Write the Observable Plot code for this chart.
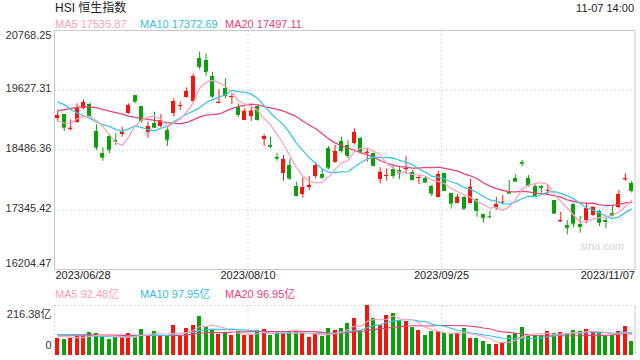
<!DOCTYPE html>
<html><head><meta charset="utf-8">
<script src="https://cdn.jsdelivr.net/npm/d3@7"></script>
<script src="https://cdn.jsdelivr.net/npm/@observablehq/plot@0.6"></script>
<style>
body{margin:0;background:#fff;font-family:"Liberation Sans",Arial,"Noto Sans CJK SC",sans-serif;}
#wrap{position:relative;width:640px;height:360px;overflow:hidden;background:#fff;}
.t{position:absolute;white-space:nowrap;line-height:1;}
#main{position:absolute;left:0;top:0;}
#vol{position:absolute;left:0;top:290px;}
</style></head><body><div id="wrap"><div id="main"></div><div id="vol"></div></div>
<script>
const title = "HSI 恒生指数";
const stamp = "11-07 14:00";
const legendPrice = ["MA5 17535.87", "MA10 17372.69", "MA20 17497.11"];
const legendVol = ["MA5 92.48亿", "MA10 97.95亿", "MA20 96.95亿"];
const yTicks = [20768.25, 19627.31, 18486.36, 17345.42, 16204.47];
const yTickLabels = ["20768.25", "19627.31", "18486.36", "17345.42", "16204.47"];
const volMax = 216.38;
const volTickLabels = ["216.38亿", "0"];
const xLabels = ["2023/06/28", "2023/08/10", "2023/09/25", "2023/11/07"];
const xLabelPos = [-0.5, 29.5, 59.5, 89.5];
const xGrid = [29.5, 59.5];

const open = [19094,19164,18884,19006,19285,19355,18840,18420,18744,18668,
18788,19189,19527,19317,18826,18986,18935,18859,19177,19323,
19494,19412,20228,20195,19890,19380,19655,19483,19304,19050,
19126,19323,18693,18572,18343,18032,18190,17795,17637,17765,
17980,18018,18521,18254,18648,18572,18604,18700,18414,18414,
17923,17985,18114,18095,18120,18063,17950,17936,17789,17573,
18031,17662,17471,17585,17471,17535,17255,17222,17363,17480,
17700,17936,18245,17936,17789,17789,17708,17522,17122,17045,
17446,17064,17140,17230,17318,17132,17280,17394,17917,17853];
const high = [19222,19164,19063,19369,19445,19380,18967,18528,18777,18796,
18922,19369,19527,19317,19017,19209,19164,18935,19464,19399,
19674,19941,20354,20323,19972,19636,19846,19560,19369,19273,
19304,19336,18782,18731,18426,18381,18318,17872,17956,17980,
18222,18127,18553,18572,18731,18668,18891,18731,18509,18426,
18146,18127,18190,18171,18362,18095,18000,17980,17809,18082,
18044,17662,17637,17598,17929,17554,17255,17312,17585,17618,
17904,18012,18286,18000,17840,17809,17809,17522,17299,17140,
17459,17217,17478,17394,17331,17191,17427,17713,18031,17891];
const low = [19017,18840,18846,18998,19254,19113,18477,18272,18414,18572,
18731,19164,19369,18998,18712,18891,18910,18553,19113,19241,
19475,19380,20018,19896,19475,19369,19464,19355,19113,19050,
19031,19037,18553,18509,18272,17891,17923,17585,17566,17713,
17936,17936,18108,18235,18426,18318,18585,18414,18254,18165,
17840,17891,17936,17917,18032,17891,17827,17853,17598,17573,
17713,17363,17459,17344,17459,17203,17088,17172,17331,17446,
17650,17891,18171,17777,17618,17662,17618,17268,17108,16867,
17000,16898,17077,17217,17026,16981,17204,17363,17891,17662];
const close = [19145,18922,18903,19285,19393,19126,18540,18349,18490,18655,
18826,19336,19418,19050,18935,18922,19050,18681,19412,19336,
19603,19890,20081,19986,19514,19399,19527,19508,19164,19228,
19228,19069,18744,18559,18330,18305,17936,17618,17770,17809,
18190,17956,18146,18458,18477,18381,18815,18464,18445,18190,
18063,18000,18000,18051,18130,17923,17960,17872,17662,18018,
17713,17471,17585,17363,17777,17331,17191,17212,17446,17490,
17662,17891,18235,17809,17618,17765,17718,17280,17132,17000,
17077,17026,17363,17394,17108,17122,17236,17637,17936,17713];
const ma5 = [19045,19000,18990,19080,19130,19126,19049,18939,18780,18632,
18572,18731,18945,19057,19113,19132,19075,18928,19000,19080,
19216,19384,19664,19779,19815,19774,19701,19587,19422,19365,
19331,19239,19087,18966,18786,18601,18375,18150,17992,17888,
17865,17869,17974,18112,18245,18284,18455,18519,18516,18459,
18395,18232,18140,18061,18049,18021,18013,17987,17909,17887,
17845,17747,17690,17630,17582,17505,17449,17375,17391,17334,
17400,17540,17745,17817,17843,17864,17829,17638,17503,17379,
17241,17103,17120,17172,17194,17203,17245,17299,17408,17529];
const ma10 = [19402,19354,19263,19190,19140,19090,19022,18969,18938,18881,
18849,18890,18942,18918,18873,18852,18903,18936,19029,19097,
19174,19230,19296,19390,19448,19495,19543,19626,19601,19590,
19553,19470,19337,19194,19076,18966,18807,18618,18479,18337,
18233,18122,18062,18052,18067,18074,18162,18247,18314,18352,
18340,18344,18329,18289,18254,18208,18123,18063,17985,17968,
17933,17880,17839,17770,17734,17675,17598,17532,17511,17458,
17453,17495,17560,17604,17589,17632,17685,17691,17660,17611,
17553,17466,17379,17337,17286,17222,17174,17210,17290,17361];
const ma20 = [19240,19255,19280,19300,19315,19310,19290,19260,19230,19200,
19170,19135,19110,19090,19070,19050,19030,19010,18995,18989,
19012,19060,19119,19154,19160,19174,19223,19281,19315,19343,
19363,19350,19316,19292,19262,19231,19175,19122,19040,18963,
18893,18796,18699,18623,18571,18520,18485,18432,18396,18345,
18286,18233,18196,18170,18160,18141,18142,18155,18150,18160,
18136,18112,18084,18029,17994,17942,17860,17798,17748,17713,
17693,17687,17699,17687,17661,17654,17641,17612,17585,17534,
17503,17480,17469,17471,17437,17427,17429,17450,17475,17486];
const volume = [72,66,72,82,87,97,93,77,66,77,
77,93,78,110,84,102,84,79,128,84,
115,128,168,124,113,88,93,84,104,84,
87,106,110,84,99,88,104,104,93,75,
88,79,115,109,115,137,159,106,216,159,
128,172,181,150,146,119,106,84,102,102,
93,88,93,115,71,71,57,44,44,53,
84,93,119,84,84,84,102,93,97,93,
106,102,110,102,97,79,84,102,124,57];
const vma5 = [82,80,78,76,76,81,86,87,84,82,
78,78,78,87,88,93,92,92,95,95,
98,107,125,124,130,124,117,100,96,91,
90,93,98,94,97,97,97,96,98,93,
93,88,90,93,101,111,127,125,147,155,
154,156,171,158,155,154,140,121,111,103,
97,94,96,98,92,88,81,72,57,54,
56,64,79,87,93,93,95,89,92,94,
98,98,102,103,103,98,94,93,97,89];
const vma10 = [88,87,86,85,84,83,82,81,80,79,
79,82,83,86,85,86,85,85,91,92,
96,99,108,110,113,111,112,113,110,110,
107,105,99,95,94,94,95,97,96,95,
95,92,93,95,97,102,107,108,120,128,
132,142,148,152,155,154,148,146,135,129,
126,117,108,105,97,93,88,84,78,73,
72,73,75,72,73,75,79,84,89,93,
96,96,96,97,99,98,96,97,100,96];
const vma20 = [88,88,88,88,88,88,87,87,87,87,
86,86,86,86,86,86,85,85,85,85,
88,91,95,98,99,98,98,99,101,101,
102,102,104,102,103,103,104,105,103,103,
101,99,96,95,95,98,101,102,108,112,
114,117,121,124,126,128,128,127,127,129,
129,129,128,129,126,123,118,115,106,101,
99,95,92,88,85,84,83,84,84,83,
84,84,85,85,86,86,88,91,95,95];

const RED = "#f2170c", GREEN = "#0c9f0c";
const C5 = "#f8a2bf", C10 = "#3cc5e2", C20 = "#e9447a";
const L5 = "#f79cbb", L10 = "#2fc0de", L20 = "#ea3d77";
const GRID = "#d6d6d6", BORDER = "#c9c9c9";
const FONT = "'Liberation Sans', Arial, 'Noto Sans CJK SC', sans-serif";
const HW = 0.31;

const candles = open.map((o, i) => ({i, o, h: high[i], l: low[i], c: close[i], v: volume[i],
  col: close[i] >= o ? RED : GREEN}));
const line = (arr) => arr.map((v, i) => ({i, v}));

const main = Plot.plot({
  width: 640, height: 290,
  marginLeft: 54, marginRight: 5.5, marginTop: 30, marginBottom: 21,
  x: {domain: [-0.5, 89.5], axis: null},
  y: {domain: [yTicks[4], yTicks[0]], axis: null},
  color: {type: "identity"},
  style: {fontFamily: FONT, fontSize: "11px", background: "transparent", overflow: "visible"},
  marks: [
    Plot.ruleY(yTicks.slice(1, 4), {stroke: GRID, strokeDasharray: "2,2"}),
    Plot.ruleX(xGrid, {stroke: GRID, strokeDasharray: "2,2"}),
    Plot.frame({stroke: BORDER}),
    Plot.text(["sina.com"], {frameAnchor: "bottom-right", text: d => d, dx: -11, dy: -20, textAnchor: "end", fill: "#d2d2d2", fontSize: 11}),
    Plot.ruleX(candles, {x: "i", y1: "l", y2: "h", stroke: "col", strokeWidth: 1}),
    Plot.rect(candles, {x1: d => d.i - HW, x2: d => d.i + HW, y1: "o", y2: "c", fill: "col", shapeRendering: "crispEdges"}),
    Plot.ruleY(candles, {y: "c", x1: d => d.i - HW, x2: d => d.i + HW, stroke: "col", strokeWidth: 1}),
    Plot.line(line(ma20), {x: "i", y: "v", stroke: C20, strokeWidth: 1.3}),
    Plot.line(line(ma10), {x: "i", y: "v", stroke: C10, strokeWidth: 1.3}),
    Plot.line(line(ma5), {x: "i", y: "v", stroke: C5, strokeWidth: 1.3}),
    Plot.text([0], {y: d => yTicks[d], text: d => yTickLabels[d], frameAnchor: "left", textAnchor: "end", dx: -3, dy: 5, fill: "#333"}),
    Plot.text([1, 2, 3], {y: d => yTicks[d], text: d => yTickLabels[d], frameAnchor: "left", textAnchor: "end", dx: -3, dy: -1.5, fill: "#333"}),
    Plot.text([4], {y: d => yTicks[d], text: d => yTickLabels[d], frameAnchor: "left", textAnchor: "end", dx: -3, dy: -6, fill: "#333"}),
    Plot.text([0], {x: d => xLabelPos[d], text: d => xLabels[d], frameAnchor: "bottom", textAnchor: "start", dx: 1, dy: 9, fill: "#222"}),
    Plot.text([1, 2], {x: d => xLabelPos[d], text: d => xLabels[d], frameAnchor: "bottom", textAnchor: "middle", dy: 9, fill: "#222"}),
    Plot.text([3], {x: d => xLabelPos[d], text: d => xLabels[d], frameAnchor: "bottom", textAnchor: "end", dy: 9, fill: "#222"})
  ]
});
document.getElementById("main").appendChild(main);

const vol = Plot.plot({
  width: 640, height: 70,
  marginLeft: 54, marginRight: 5.5, marginTop: 15, marginBottom: 5.5,
  x: {domain: [-0.5, 89.5], axis: null},
  y: {domain: [0, volMax], axis: null},
  color: {type: "identity"},
  style: {fontFamily: FONT, fontSize: "11px", background: "transparent", overflow: "visible"},
  marks: [
    Plot.ruleY([volMax], {stroke: GRID, strokeDasharray: "2,2"}),
    Plot.ruleX([-0.5], {stroke: GRID, strokeDasharray: "2,2"}),
    Plot.ruleX(xGrid, {stroke: GRID, strokeDasharray: "2,2"}),
    Plot.ruleX([89.5], {stroke: BORDER}),
    Plot.rect(candles, {x1: d => d.i - HW, x2: d => d.i + HW, y1: 0, y2: "v", fill: "col", shapeRendering: "crispEdges"}),
    Plot.line(line(vma20), {x: "i", y: "v", stroke: C20, strokeWidth: 1.1}),
    Plot.line(line(vma10), {x: "i", y: "v", stroke: C10, strokeWidth: 1.1}),
    Plot.line(line(vma5), {x: "i", y: "v", stroke: C5, strokeWidth: 1.1}),
    Plot.text([0], {frameAnchor: "top-left", text: d => volTickLabels[d], textAnchor: "end", dx: -3, dy: 5, fill: "#333"}),
    Plot.text([1], {frameAnchor: "bottom-left", text: d => volTickLabels[d], textAnchor: "end", dx: -3, dy: -6, fill: "#333"})
  ]
});
document.getElementById("vol").appendChild(vol);

const wrap = document.getElementById("wrap");
function addText(str, css) {
  const d = document.createElement("div");
  d.className = "t";
  d.textContent = str;
  Object.assign(d.style, css);
  wrap.appendChild(d);
}
addText(title, {left: "55px", top: "2px", fontSize: "12px", color: "#222"});
addText(stamp, {right: "6px", top: "3px", fontSize: "11px", color: "#222"});
const legX = [55, 140, 225];
const legC = [L5, L10, L20];
legendPrice.forEach((s, k) => addText(s, {left: legX[k] + "px", top: "19px", fontSize: "11px", color: legC[k]}));
legendVol.forEach((s, k) => addText(s, {left: legX[k] + "px", top: "289px", fontSize: "11px", color: legC[k]}));
</script></body></html>
